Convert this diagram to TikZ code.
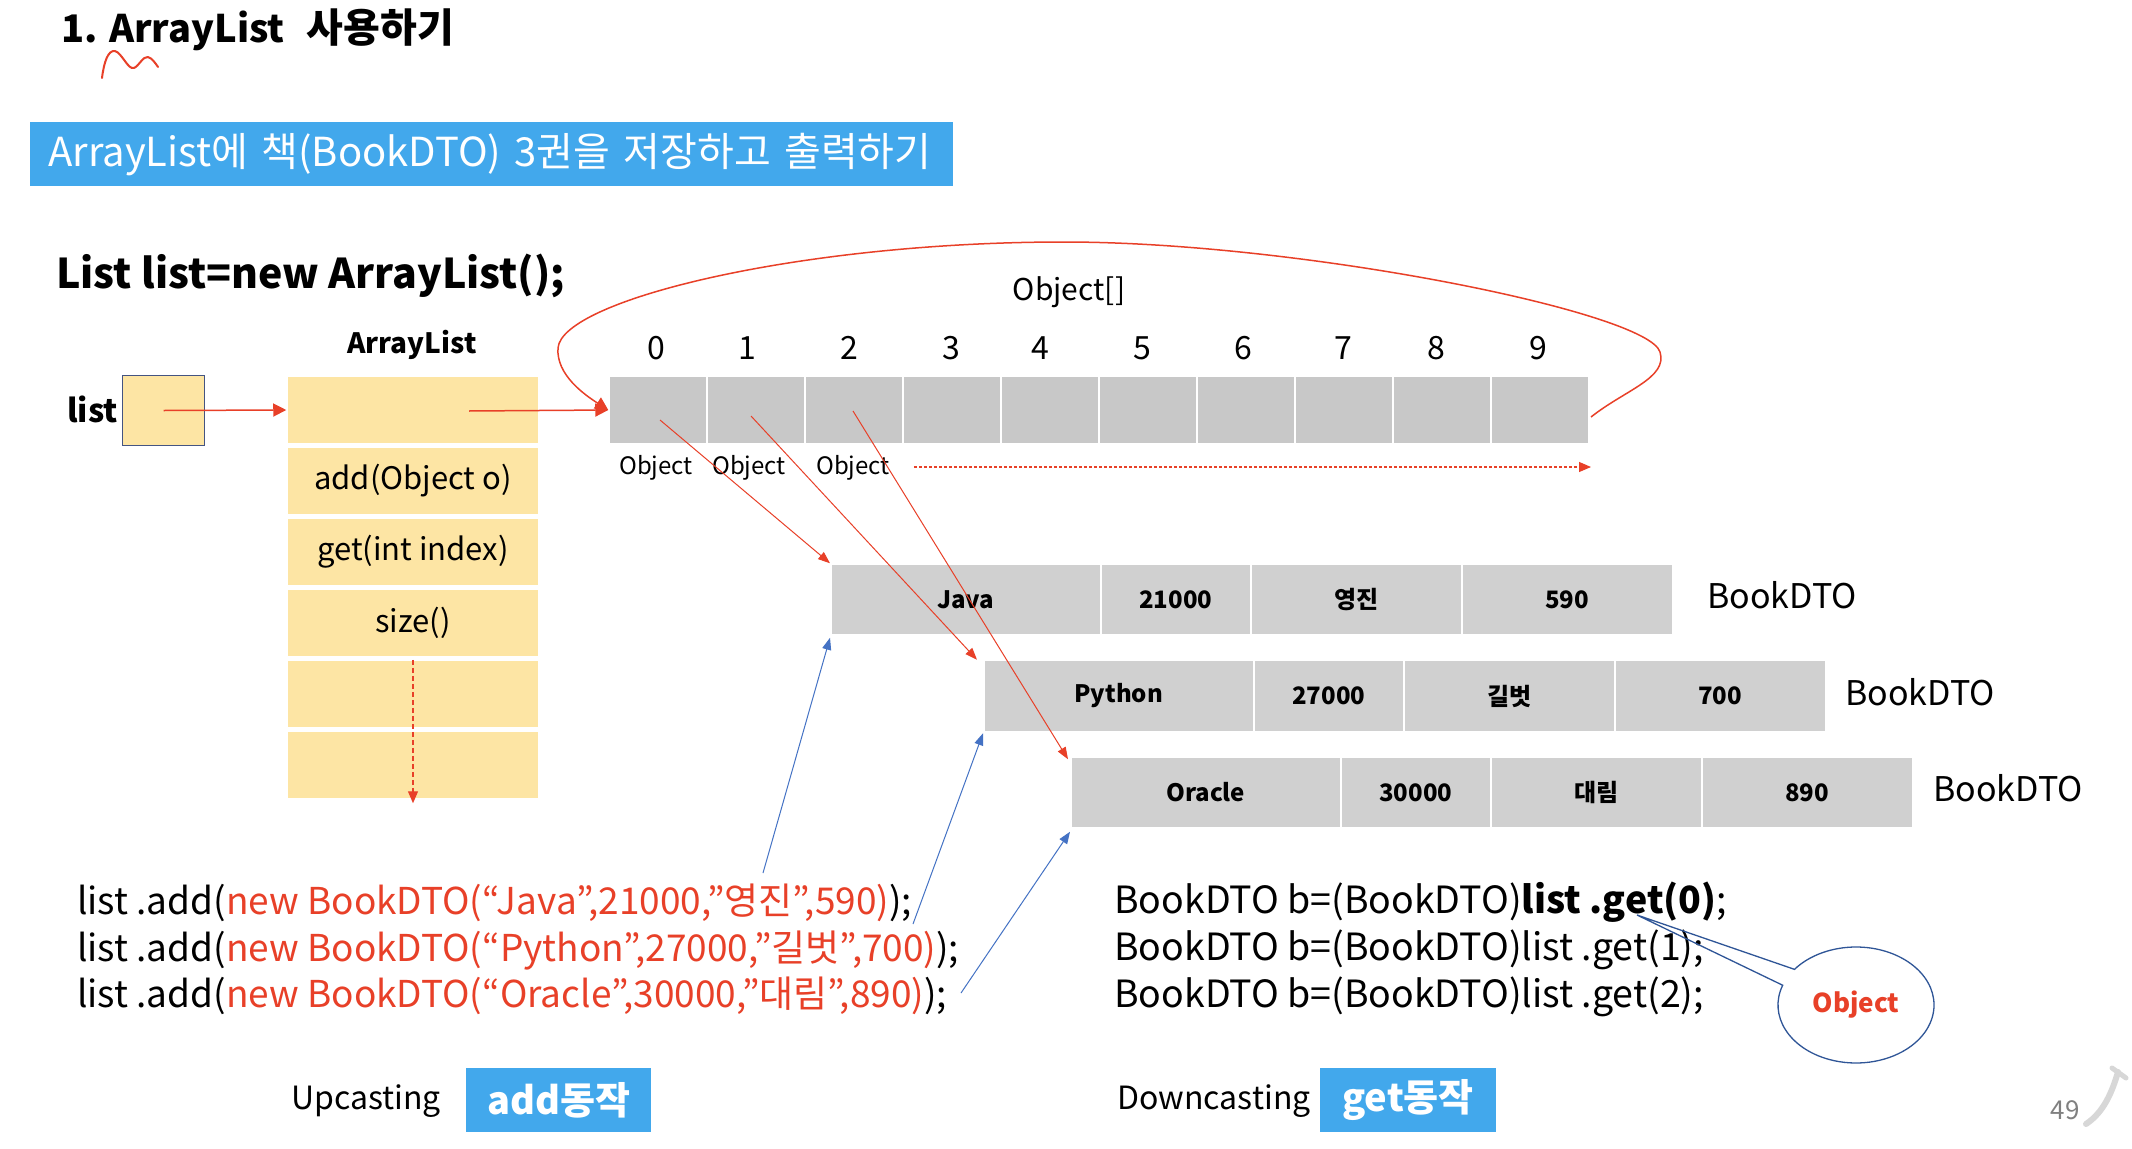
\documentclass[tikz,border=0pt]{standalone}
\usepackage{fontspec}
\setmainfont{Noto Sans CJK KR}
\usetikzlibrary{arrows.meta,shapes.geometric,shapes.callouts}
\definecolor{redA}{RGB}{232,64,40}
\definecolor{blueBan}{RGB}{66,168,236}
\definecolor{yel}{RGB}{253,229,164}
\definecolor{gcell}{RGB}{200,200,200}
\definecolor{gbook}{RGB}{208,208,208}
\definecolor{blueL}{RGB}{68,114,196}
\definecolor{navy}{RGB}{47,85,151}
\definecolor{boxbd}{RGB}{68,84,130}
\definecolor{pgray}{RGB}{128,128,128}
\definecolor{lgray}{RGB}{215,215,215}
\tikzset{
  F/.style={font=\fontsize{#1}{#1}\selectfont},
  FB/.style={font=\fontsize{#1}{#1}\selectfont\bfseries},
  redarrow/.style={redA, line width=1.5pt, -{Triangle[length=13pt,width=13pt]}},
  thinred/.style={redA, line width=1pt, -{Triangle[length=12pt,width=9pt]}},
  bluearrow/.style={blueL, line width=1pt, -{Triangle[length=12pt,width=9pt]}},
  ycell/.style={fill=yel, draw=white, line width=1.5pt, minimum width=252pt, minimum height=67pt, inner sep=0pt, F=31},
  acell/.style={fill=gcell, draw=white, line width=1.5pt, minimum width=98pt, minimum height=67pt, inner sep=0pt},
  bcell/.style={fill=gbook, draw=white, line width=1.5pt, minimum height=71pt, inner sep=0pt, FB=24, anchor=west},
  bluebox/.style={fill=blueBan, text=white, inner sep=0pt},
  lbl/.style={inner sep=0pt},
}
\begin{document}
\begin{tikzpicture}[x=1pt,y=-1pt]
\useasboundingbox[fill=white] (0,0) rectangle (2132,1148);
% title
\node[FB=38, lbl, anchor=base west] (title) at (61,43) {1. ArrayList\hspace{22pt}{\fontsize{40}{40}\selectfont 사용하기}};
\draw[redA, line width=2pt, line cap=round, line join=round] (102,78) .. controls (104,62) and (108,50) .. (115,51) .. controls (122,53) and (128,70) .. (134,68) .. controls (139,66) and (143,56) .. (148,57) .. controls (152,58) and (156,64) .. (158,67);
% banner
\node[bluebox, anchor=north west, minimum width=923pt, minimum height=64pt, text width=887pt, align=left, F=40] (banner) at (30,122) {ArrayList에 책(BookDTO) 3권을 저장하고 출력하기};
% declaration
\node[FB=41, lbl, anchor=base west] (decl) at (56,288) {List list=new ArrayList();};
% list variable
\node[FB=32, lbl, anchor=base west] (listlbl) at (67,422) {list};
\node[fill=yel, draw=boxbd, line width=1.5pt, minimum width=82pt, minimum height=70pt] (listbox) at (163.5,410.5) {};
% ArrayList column
\node[FB=28, lbl] (allbl) at (412,345) {ArrayList};
\foreach \i/\t in {1/,2/add(Object o),3/get(int index),4/size(),5/,6/}
  \node[ycell] (al\i) at (413,{410+71*(\i-1)}) {\t};
% Object array
\node[F=30, lbl] (objarr) at (1069,292) {Object[]};
\foreach \i in {0,...,9}
  \node[acell] (c\i) at ({658+98*\i},410) {};
\foreach \i/\x in {0/656,1/747,2/849,3/951,4/1040,5/1142,6/1243,7/1343,8/1436,9/1538}
  \node[F=32, lbl] (n\i) at (\x,348) {\i};
\foreach \i/\x in {0/656,1/749,2/853}
  \node[F=24, lbl] (o\i) at (\x,468) {Object};
% BookDTO rows
\foreach \r/\xo/\yc/\lx/\a/\b/\c/\d in {J/830/599.5/1707/Java/21000/영진/590, P/983/696/1845/Python/27000/길벗/700, O/1070/792.5/1933/Oracle/30000/대림/890} {
  \node[bcell, minimum width=270pt] (\r1) at (\xo,\yc) {\a};
  \node[bcell, minimum width=150pt] (\r2) at ({\xo+270},\yc) {\b};
  \node[bcell, minimum width=211pt] (\r3) at ({\xo+420},\yc) {\c};
  \node[bcell, minimum width=211pt] (\r4) at ({\xo+631},\yc) {\d};
  \node[F=34, lbl, anchor=west] (\r L) at (\lx,{\yc-4}) {BookDTO};
}
% arrows top
\coordinate (alp) at (469,411);
\draw[redarrow] (listbox.center) -- (al1.west);
\draw[redarrow] (alp) -- (c0.west);
\coordinate (loopS) at (1591,417);
\draw[redarrow] (loopS) .. controls (1625,390) and (1668,378) .. (1660,352)
  .. controls (1648,312) and (1300,242) .. (1064,242)
  .. controls (800,242) and (562,300) .. (558,348)
  .. controls (556,375) and (585,395) .. (c0.west);
\draw[redA, line width=1.2pt, dash pattern=on 5pt off 3pt, -{Triangle[length=12pt,width=10pt]}] (al5.north) -- ([yshift=-4pt]al6.south);
\coordinate (dotS) at (914,467);
\coordinate (dotE) at (1591,467);
\draw[redA, line width=1.2pt, dash pattern=on 3pt off 2pt, -{Triangle[length=12pt,width=10pt]}] (dotS) -- (dotE);
% cell to book lines
\coordinate (p0) at (660,420);
\coordinate (p1) at (751,416);
\coordinate (p2) at (853,411);
\draw[thinred] (p0) -- (J1.north west);
\draw[thinred] (p1) -- ([xshift=-6pt]P1.north west);
\draw[thinred] (p2) -- ([xshift=-2pt,yshift=-3pt]O1.north west);
% add code
\node[F=37, lbl, anchor=base west] (add1) at (77,914) {list .add(\textcolor{redA}{new BookDTO(“Java”,21000,”영진”,590)});};
\node[F=37, lbl, anchor=base west] (add2) at (77,961) {list .add(\textcolor{redA}{new BookDTO(“Python”,27000,”길벗”,700)});};
\node[F=37, lbl, anchor=base west] (add3) at (77,1007) {list .add(\textcolor{redA}{new BookDTO(“Oracle”,30000,”대림”,890)});};
\coordinate (b1) at (763,873);
\coordinate (b2) at (913,924);
\coordinate (b3) at (961,993);
\draw[bluearrow] (b1) -- ([yshift=-2pt]J1.south west);
\draw[bluearrow] (b2) -- ([yshift=-1pt]P1.south west);
\draw[bluearrow] (b3) -- ([yshift=-3pt]O1.south west);
% get code
\node[F=37.5, lbl, anchor=base west] (get0) at (1114,913) {BookDTO b=(BookDTO)\textbf{list .get(0)};};
\node[F=37.5, lbl, anchor=base west] (get1) at (1114,960) {BookDTO b=(BookDTO)list .get(1);};
\node[F=37.5, lbl, anchor=base west] (get2) at (1114,1007) {BookDTO b=(BookDTO)list .get(2);};
\coordinate (gettip) at (1637,915);
\node[ellipse callout, draw=navy, line width=1.3pt, minimum width=156pt, minimum height=116pt, callout absolute pointer={(gettip)}, callout pointer arc=18, FB=26, text=redA] (callout) at (1856,1005) {Object};
% bottom
\node[F=32, lbl] (upc) at (366,1101) {Upcasting};
\node[bluebox, minimum width=185pt, minimum height=64pt, FB=38] (addbox) at (558.5,1100) {add동작};
\node[F=32, lbl] (downc) at (1214,1101) {Downcasting};
\node[bluebox, minimum width=176pt, minimum height=64pt, FB=38] (getbox) at (1408,1100) {get동작};
% page number and logo
\node[F=26, lbl, text=pgray] (pg) at (2065,1110) {49};
\draw[lgray, line width=6pt, line cap=round] (2086,1124) .. controls (2104,1112) and (2112,1092) .. (2118,1072);
\draw[lgray, line width=5pt, line cap=round] (2112,1068) -- (2126,1078);
\end{tikzpicture}
\end{document}
